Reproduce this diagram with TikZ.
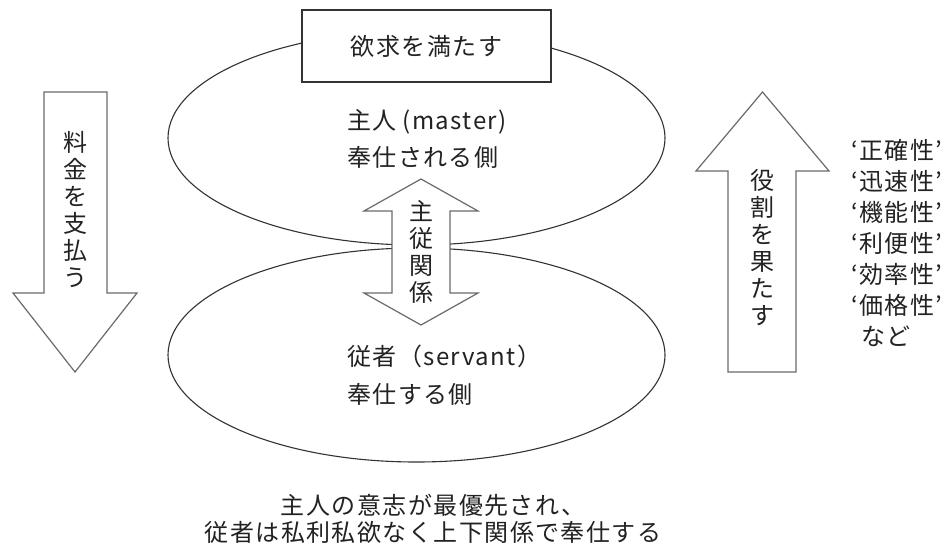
\documentclass[tikz,border=0pt]{standalone}
\usepackage{fontspec}
\usetikzlibrary{shapes.geometric}
\newfontfamily\jp[LetterSpace=6]{Noto Sans CJK JP}
\definecolor{ink}{HTML}{222222}
\definecolor{lineink}{HTML}{333333}
\definecolor{arrowline}{HTML}{6A6A6A}
\begin{document}
\begin{tikzpicture}[x=1pt,y=-1pt,
  every node/.style={font=\jp\fontsize{24}{28}\selectfont, text=ink, inner sep=0pt},
  oval/.style={draw=lineink, line width=1.1pt, ellipse, minimum width=497pt, minimum height=214pt},
  blockarrow/.style={draw=arrowline, line width=1.2pt, fill=white, line join=miter},
  topbox/.style={draw=lineink, line width=1.2pt, fill=white, minimum width=249pt, minimum height=72pt},
  vtext/.style={align=center, font=\jp\fontsize{24}{27}\selectfont},
  listtext/.style={align=left, font=\jp\fontsize{24}{31}\selectfont},
  caption/.style={align=center, font=\jp\fontsize{24}{26.5}\selectfont}]
\useasboundingbox (0,0) rectangle (952,552);
\fill[white] (0,0) rectangle (952,552);

% ellipses
\node[oval] (master) at (416.5,138) {};
\node[oval] (servant) at (416.5,355) {};

% top box
\node[topbox] (need) at (426.5,46) {欲求を満たす};

% left down arrow
\draw[blockarrow] (44,92) -- (107,92) -- (107,293) -- (137,293) -- (75,372) -- (13,293) -- (44,293) -- cycle;
\node[vtext] (pay) at (75,209) {料\\金\\を\\支\\払\\う};

% right up arrow
\draw[blockarrow] (728,372) -- (796,372) -- (796,171) -- (829,171) -- (762.5,92) -- (696,171) -- (728,171) -- cycle;
\node[vtext] (role) at (762.5,248) {役\\割\\を\\果\\た\\す};

% middle double arrow
\draw[blockarrow] (392,211) -- (364,211) -- (421,179) -- (478,211) -- (450,211) -- (450,293) -- (478,293) -- (421,325) -- (364,293) -- (392,293) -- cycle;
\node[vtext] (rel) at (421,252) {主\\従\\関\\係};

% texts in ellipses
\node[anchor=west] (m1) at (347,122) {主人\hspace{6pt}(master)};
\node[anchor=west] (m2) at (347,157) {奉仕される側};
\node[anchor=west] (s1) at (347,356) {従者（servant）};
\node[anchor=west] (s2) at (347,394) {奉仕する側};

% right list
\node[listtext, anchor=west] (list) at (851,243.5) {‘正確性’\\‘迅速性’\\‘機能性’\\‘利便性’\\‘効率性’\\‘価格性’\\\hspace*{10pt}など};

% caption
\node[caption] (cap) at (433,519) {主人の意志が最優先され、\\従者は私利私欲なく上下関係で奉仕する};
\end{tikzpicture}
\end{document}
